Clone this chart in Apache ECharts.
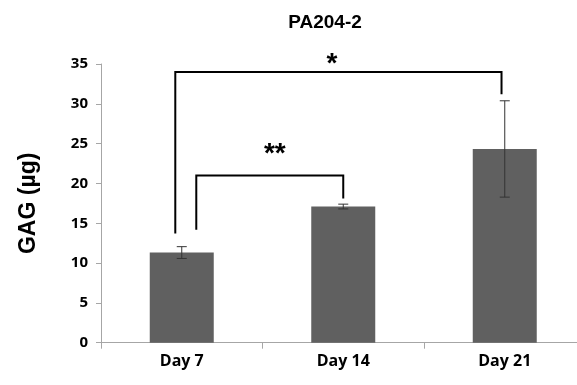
<!DOCTYPE html>
<html>
<head>
<meta charset="utf-8">
<script src="https://cdn.jsdelivr.net/npm/echarts@6/dist/echarts.min.js"></script>
<style>html,body{margin:0;padding:0;background:#fff;overflow:hidden;width:577px;height:385px}#c{width:592px;height:385px}</style>
</head>
<body>
<div id="c"></div>
<script>
const categories = ['Day 7', 'Day 14', 'Day 21'];
const means = [11.32, 17.1, 24.33];
const errors = [0.74, 0.3, 6.05];
const yTicks = { min: 0, max: 35, interval: 5 };
// significance brackets (x in category units, y in data units)
const bracketX = [[-0.04, 1.98], [0.09, 1.0]];
const bracketY = [34, 21];
const bracketLegs = [[13.7, 31.2], [14.2, 18.1]];
const bracketMarks = ['*', '**'];
const markX = [0.93, 0.576];
const markY = [35.0, 23.6];

const chart = echarts.init(document.getElementById('c'));

const errData = categories.map((c, i) => [i, means[i] - errors[i], means[i] + errors[i]]);
const brData = bracketX.map((b, i) => [b[0], b[1], bracketY[i], bracketLegs[i][0], bracketLegs[i][1], markX[i], markY[i]]);

chart.setOption({
  animation: false,
  title: {
    text: 'PA204-2', left: 320, top: 8, textAlign: 'center',
    textStyle: { fontFamily: 'Liberation Sans', fontWeight: 'bold', fontSize: 19, color: '#000' }
  },
  grid: { left: 101, width: 484.5, top: 64, height: 278.7 },
  xAxis: [{
    type: 'category', data: categories,
    axisLine: { lineStyle: { color: '#a6a6a6', width: 1 } },
    axisTick: { show: true, length: 6, lineStyle: { color: '#a6a6a6' } },
    axisLabel: { margin: 11, fontFamily: 'Open Sans', fontWeight: 'bold', fontSize: 16, color: '#000' }
  }, {
    type: 'value', min: -0.5, max: 2.5, show: false
  }],
  yAxis: {
    type: 'value', min: yTicks.min, max: yTicks.max, interval: yTicks.interval,
    name: 'GAG (µg)', nameLocation: 'middle', nameGap: 61,
    nameTextStyle: { fontFamily: 'Liberation Sans', fontWeight: 'bold', fontSize: 23, color: '#000' },
    axisLine: { show: true, onZero: false, lineStyle: { color: '#a6a6a6', width: 1 } },
    axisTick: { show: true, length: 5, lineStyle: { color: '#a6a6a6' } },
    splitLine: { show: false },
    axisLabel: { margin: 13, fontFamily: 'Open Sans', fontWeight: 'bold', fontSize: 15, color: '#000' }
  },
  series: [{
    type: 'bar', data: means, barWidth: 64,
    itemStyle: { color: '#606060' }
  }, {
    type: 'custom', data: errData, z: 5,
    renderItem: function (params, api) {
      const lo = api.coord([api.value(0), api.value(1)]);
      const hi = api.coord([api.value(0), api.value(2)]);
      const w = 5;
      const st = { stroke: '#333', lineWidth: 1 };
      return { type: 'group', children: [
        { type: 'line', shape: { x1: hi[0], y1: hi[1], x2: lo[0], y2: lo[1] }, style: st },
        { type: 'line', shape: { x1: hi[0] - w, y1: hi[1], x2: hi[0] + w, y2: hi[1] }, style: st },
        { type: 'line', shape: { x1: lo[0] - w, y1: lo[1], x2: lo[0] + w, y2: lo[1] }, style: st }
      ]};
    }
  }, {
    type: 'custom', xAxisIndex: 1, data: brData, z: 6,
    renderItem: function (params, api) {
      const tl = api.coord([api.value(0), api.value(2)]);
      const tr = api.coord([api.value(1), api.value(2)]);
      const bl = api.coord([api.value(0), api.value(3)]);
      const br = api.coord([api.value(1), api.value(4)]);
      const m = api.coord([api.value(5), api.value(6)]);
      return { type: 'group', children: [
        { type: 'polyline', shape: { points: [bl, tl, tr, br] }, style: { stroke: '#000', lineWidth: 2, fill: null } },
        { type: 'text', x: m[0], y: m[1], style: { text: bracketMarks[params.dataIndex], align: 'center', verticalAlign: 'middle', fontFamily: 'Liberation Sans', fontWeight: 'bold', fontSize: 28, fill: '#000', letterSpacing: 4 } }
      ]};
    }
  }]
});
</script>
</body>
</html>
